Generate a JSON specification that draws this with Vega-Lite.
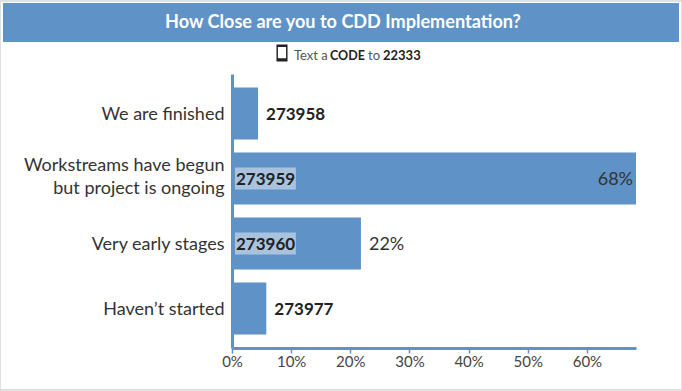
{
"$schema":"https://vega.github.io/schema/vega-lite/v6.json",
"background":"#e0e0e0",
"padding":{"left":1,"top":2,"right":1,"bottom":2},
"autosize":{"type":"pad"},
"spacing":0,
"config":{"font":"Lato","view":{"stroke":null},"concat":{"spacing":0}},
"vconcat":[
{"width":680,"height":42,"view":{"fill":"#ffffff"},
"data":{"values":[{"t":"How Close are you to CDD Implementation?"}]},
"layer":[
{"mark":{"type":"rect","fill":"#5f92c6"},"encoding":{
"x":{"datum":0,"type":"quantitative","scale":{"domain":[0,1],"range":[2,678]},"axis":null},
"x2":{"datum":1},
"y":{"datum":0,"type":"quantitative","scale":{"domain":[0,1],"range":[40,1]},"axis":null},
"y2":{"datum":1}}},
{"mark":{"type":"text","fontSize":18.1,"fontWeight":"bold","fill":"#ffffff","dy":-0.5,"dx":2},"encoding":{"text":{"field":"t"}}}
]},
{"width":680,"height":24,"view":{"fill":"#ffffff"},
"data":{"values":[{"a":"Text a","b":"CODE","c":"to","d":"22333"}]},
"layer":[
{"mark":{"type":"text","fontSize":13,"fill":"#555555","align":"left","dx":-47},"encoding":{"text":{"field":"a"}}},
{"mark":{"type":"text","fontSize":12.5,"fontWeight":"bold","fill":"#222222","align":"left","dx":-11},"encoding":{"text":{"field":"b"}}},
{"mark":{"type":"text","fontSize":13,"fill":"#555555","align":"left","dx":27},"encoding":{"text":{"field":"c"}}},
{"mark":{"type":"text","fontSize":13,"fontWeight":"bold","fill":"#222222","align":"left","dx":42},"encoding":{"text":{"field":"d"}}},
{"mark":{"type":"point","shape":"M-0.65,-1 H0.65 V1 H-0.65 Z M-0.48,-0.72 V0.62 H0.48 V-0.72 Z","size":289,"filled":true,"fill":"#222222","opacity":1},"encoding":{
"x":{"datum":281,"type":"quantitative","scale":{"domain":[0,680],"range":[0,680]},"axis":null},
"y":{"datum":9,"type":"quantitative","scale":{"domain":[0,24],"range":[0,24]},"axis":null}}}
]},
{"width":680,"height":321,"view":{"fill":"#ffffff"},
"data":{"values":[
{"stage":"We are finished","pct":4.4,"code":"273958"},
{"stage":"Workstreams have begun but project is ongoing","pct":68.3,"code":"273959","label":"68%"},
{"stage":"Very early stages","pct":21.8,"code":"273960","label":"22%"},
{"stage":"Haven't started","pct":5.8,"code":"273977"}
]},
"encoding":{
"y":{"field":"stage","type":"nominal","sort":null,
"scale":{"range":[6,280],"paddingInner":0.2,"paddingOuter":0.208},
"axis":{"title":null,"offset":-231,"ticks":false,"labelPadding":8,"labelFontSize":18,"labelColor":"#333333","labelLimit":0,"domainColor":"#5f92c6","domainWidth":3,"labelLineHeight":23,
"labelOffset":{"condition":{"test":"length(datum.label) > 30","value":-13},"value":1.5},
"labelExpr":"datum.label == 'Workstreams have begun but project is ongoing' ? ['Workstreams have begun','but project is ongoing'] : datum.label == \"Haven't started\" ? 'Haven’t started' : datum.label"}},
"x":{"field":"pct","type":"quantitative",
"scale":{"domain":[0,68.3],"range":[231,635],"nice":false},
"axis":{"title":null,"offset":-41,"values":[0,10,20,30,40,50,60],"labelExpr":"datum.value + '%'","labelFlush":false,"grid":false,"domainColor":"#5f92c6","domainWidth":3,"tickColor":"#5f92c6","tickSize":5,"tickWidth":1.5,"labelFontSize":15,"labelColor":"#444444","labelPadding":1}}
},
"layer":[
{"mark":{"type":"bar","fill":"#5f92c6"},"encoding":{"x":{"field":"pct","type":"quantitative"}}},
{"transform":[{"filter":"datum.pct >= 10"}],"mark":{"type":"bar","fill":"#a9c3df","height":22},"encoding":{"x":{"datum":0.5},"x2":{"datum":10.8}}},
{"transform":[{"filter":"datum.pct < 10"}],"mark":{"type":"text","align":"left","dx":8,"dy":1.5,"fontSize":17,"fontWeight":"bold","fill":"#222222"},"encoding":{"text":{"field":"code"}}},
{"transform":[{"filter":"datum.pct >= 10"}],"mark":{"type":"text","align":"left","dx":4,"dy":1.5,"fontSize":17,"fontWeight":"bold","fill":"#222222"},"encoding":{"x":{"datum":0},"text":{"field":"code"}}},
{"transform":[{"filter":"datum.pct > 50"}],"mark":{"type":"text","align":"right","dx":-3,"dy":1.5,"fontSize":18,"fill":"#333333"},"encoding":{"text":{"field":"label"}}},
{"transform":[{"filter":"datum.pct > 10 && datum.pct < 50"}],"mark":{"type":"text","align":"left","dx":8,"dy":1.5,"fontSize":18,"fill":"#333333"},"encoding":{"text":{"field":"label"}}}
]}
]}
